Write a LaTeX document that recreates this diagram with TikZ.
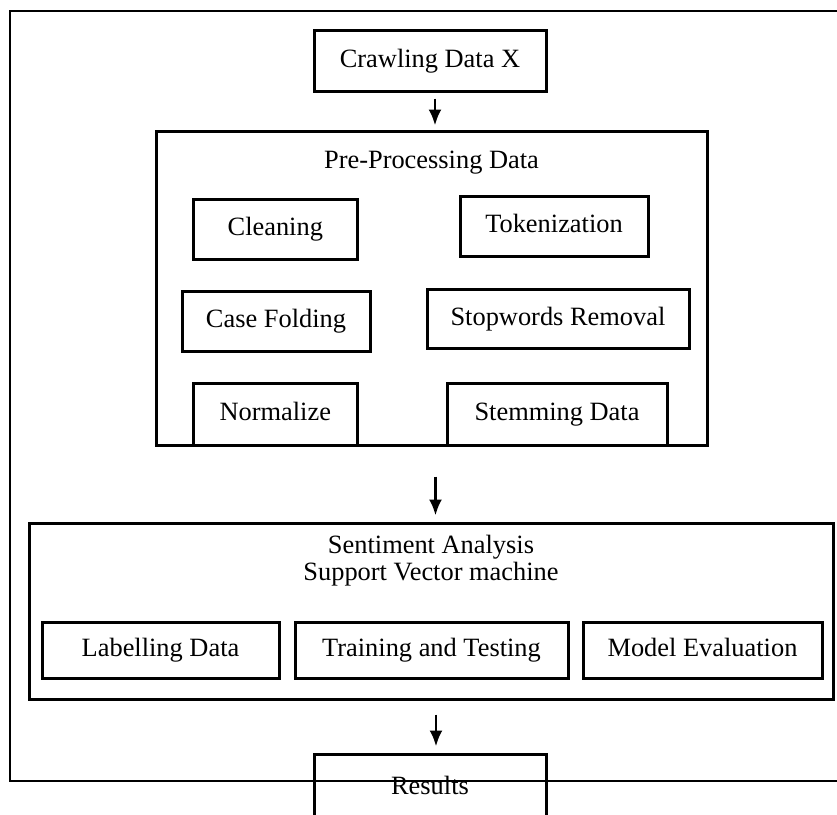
\documentclass[tikz,border=0pt]{standalone}
\usepackage{fontspec}
\setmainfont{Liberation Serif}
\usetikzlibrary{positioning,arrows.meta,calc}
\tikzset{
		basic/.style  = {draw, rectangle, inner sep=0pt, align=center,
			text height=9.5pt, text depth=3pt,
			font=\fontsize{13.2}{10}\selectfont},
		stepbox/.style = {basic, line width=1.5pt, minimum height=30pt},
		groupbox/.style = {basic, line width=1.5pt},
		grouptitle/.style = {align=center, inner sep=0pt,
			font=\fontsize{13.2}{13.5}\selectfont}
	}

\begin{document}
\begin{tikzpicture}[x=0.5pt, y=-0.5pt,
		arr/.style={-{Latex[length=8pt,width=6.5pt]}, line width=1.4pt}]
		\useasboundingbox (0,0) rectangle (837,815);
		% outer frame
		\draw[line width=0.9pt] (10,11) rectangle (870,781);
		% first step
		\node[stepbox, minimum width=116pt, minimum height=30.5pt] (crawl) at (430,60.5) {Crawling Data X};
		% pre-processing group
		\node[groupbox, minimum width=275.5pt, minimum height=157pt] (pre) at (431.5,288) {};
		\node[grouptitle] (pretitle) at (431.5,163) {Pre-Processing Data};
		\node[stepbox, minimum width=81.7pt] (clean) at (275.3,229) {Cleaning};
		\node[stepbox, minimum width=94pt] (token) at (554,226) {Tokenization};
		\node[stepbox, minimum width=94pt] (fold) at (276,321) {Case Folding};
		\node[stepbox, minimum width=131pt, minimum height=29.5pt] (stop) at (558,318.5) {Stopwords Removal};
		\node[stepbox, minimum width=81.7pt, minimum height=31pt] (norm) at (275.3,414) {Normalize};
		\node[stepbox, minimum width=110pt, minimum height=31pt] (stem) at (557,414) {Stemming Data};
		% sentiment analysis group
		\node[groupbox, minimum width=402pt, minimum height=88pt] (svm) at (431,611) {};
		\node[grouptitle] (svmtitle) at (431,561) {Sentiment Analysis\\Support Vector machine};
		\node[stepbox, minimum width=118.5pt, minimum height=28pt] (label) at (160.5,650) {Labelling Data};
		\node[stepbox, minimum width=136.5pt, minimum height=28pt] (train) at (431.5,650) {Training and Testing};
		\node[stepbox, minimum width=119.5pt, minimum height=28pt] (model) at (702.5,650) {Model Evaluation};
		% last step
		\node[stepbox, minimum width=116pt, minimum height=34pt] (result) at (430,788) {Results};
		% arrows
		\draw[arr, shorten <=3pt, shorten >=2pt] ([xshift=2.5pt]crawl.south) -- ([xshift=2.5pt]crawl.south |- pre.north);
		\draw[arr, shorten <=15pt, shorten >=3pt] ([xshift=2pt]pre.south) -- ([xshift=2pt]pre.south |- svm.north);
		\draw[arr, shorten <=7pt, shorten >=3pt] ([xshift=2.5pt]svm.south) -- ([xshift=2.5pt]svm.south |- result.north);
	\end{tikzpicture}
\end{document}
